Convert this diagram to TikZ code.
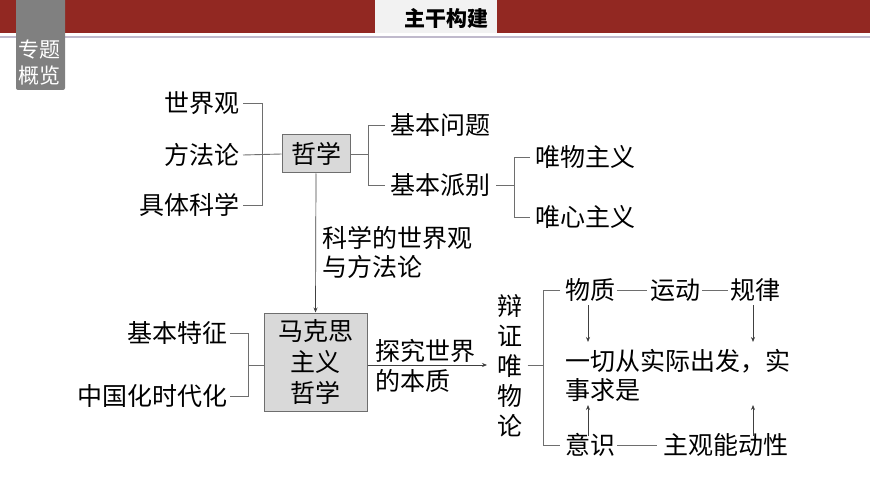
\documentclass[tikz,border=0pt]{standalone}
\usepackage{fontspec}
\setmainfont{Noto Sans CJK SC}
\usetikzlibrary{arrows.meta,calc}
\definecolor{barred}{RGB}{146,40,34}
\definecolor{tabgray}{RGB}{128,128,128}
\definecolor{boxfill}{RGB}{217,217,217}
\definecolor{lncol}{RGB}{110,110,110}
\definecolor{rulecol}{RGB}{192,186,204}
\tikzset{
  txt/.style={inner sep=0pt,font=\fontsize{25}{29}\selectfont},
  box/.style={draw=lncol,line width=1pt,fill=boxfill,inner sep=0pt,font=\fontsize{25}{28}\selectfont,align=center},
  ln/.style={draw=lncol,line width=0.9pt},
  arr/.style={draw=black!75,line width=0.7pt,-{Stealth[length=5pt,width=4pt]}},
}
\begin{document}
\begin{tikzpicture}[x=1pt,y=-1pt]
\useasboundingbox (0,0) rectangle (870,489);
% header
\fill[barred] (0,0) rectangle (870,33);
\fill[rulecol] (0,36.5) rectangle (870,38.5);
\fill[black!5] (375,0) rectangle (497,33);
\node[inner sep=0pt,font=\fontsize{21}{24}\selectfont\bfseries] (title) at (446,18) {主干构建};
\fill[tabgray,rounded corners=2pt] (16,-5) rectangle (65,90);
\node[inner sep=0pt,text=white,align=center,font=\fontsize{21}{26}\selectfont] (tab) at (39.5,63) {专题\\概览};
% top part
\node[txt,anchor=east] (sjg) at (240,103) {世界观};
\node[txt,anchor=east] (ffl) at (240,155) {方法论};
\node[txt,anchor=east] (jtkx) at (240,205) {具体科学};
\node[box,minimum width=68pt,minimum height=38pt] (zx) at (316,154) {哲学};
\node[txt,anchor=west] (jbwt) at (390,125) {基本问题};
\node[txt,anchor=west] (jbpb) at (390,185) {基本派别};
\node[txt,anchor=west] (wwzy) at (535,157) {唯物主义};
\node[txt,anchor=west] (wxzy) at (535,217) {唯心主义};
\node[txt,anchor=north west,align=left] (lab1) at (322,226) {科学的世界观\\与方法论};
% middle
\node[box,minimum width=103pt,minimum height=98pt,font=\fontsize{25}{31}\selectfont] (mks) at (315.5,362) {马克思\\主义\\哲学};
\node[txt,anchor=east] (jbtz) at (228,333) {基本特征};
\node[txt,anchor=east] (zgh) at (228,396) {中国化时代化};
\node[txt,anchor=west,align=left,font=\fontsize{25}{30}\selectfont] (lab2) at (375,366) {探究世界\\的本质};
\node[inner sep=0pt,align=center,font=\fontsize{25}{30}\selectfont] (bz) at (510,366) {辩\\证\\唯\\物\\论};
% right
\node[txt,anchor=west] (wz) at (565,290) {物质};
\node[txt,anchor=west] (yd) at (650,290) {运动};
\node[txt,anchor=west] (gl) at (730,290) {规律};
\node[txt,anchor=north west,align=left] (yq) at (565,349) {一切从实际出发，实\\事求是};
\node[txt,anchor=west] (ys) at (565,445) {意识};
\node[txt,anchor=west] (zg) at (663,445) {主观能动性};
% connectors top-left bracket
\coordinate (b1) at (262,155);
\draw[ln] ($(sjg.east)+(3,0)$) -- (sjg.east -| b1) -- (jtkx.east -| b1) -- ($(jtkx.east)+(3,0)$);
\draw[ln] ($(ffl.east)+(3,0)$) -- (zx.west);
% right of zhexue
\coordinate (b2) at (368,154);
\draw[ln] (zx.east) -- (b2);
\draw[ln] ($(jbwt.west)+(-5,0)$) -- (jbwt.west -| b2) -- (jbpb.west -| b2) -- ($(jbpb.west)+(-5,0)$);
\coordinate (b3) at (514,185);
\draw[ln] ($(jbpb.east)+(6,0)$) -- (b3);
\draw[ln] ($(wwzy.west)+(-5,0)$) -- (wwzy.west -| b3) -- (wxzy.west -| b3) -- ($(wxzy.west)+(-5,0)$);
% down arrow
\draw[arr] (zx.south) -- (mks.north);
% marxism left bracket
\coordinate (b4) at (248,365);
\draw[ln] ($(jbtz.east)+(2,0)$) -- (jbtz.east -| b4) -- (zgh.east -| b4) -- ($(zgh.east)+(2,0)$);
\draw[ln] (b4) -- (mks.west |- b4);
% arrow to bianzheng
\coordinate (a5) at (487,365);
\draw[arr] (mks.east |- a5) -- (a5);
% bianzheng bracket
\coordinate (b5) at (543,365);
\draw[ln] ($(bz.east |- b5)+(5,0)$) -- (b5);
\draw[ln] ($(wz.west)+(-5,0)$) -- (wz.west -| b5) -- (ys.west -| b5) -- ($(ys.west)+(-5,0)$);
% chains
\draw[ln] ($(wz.east)+(2,0)$) -- ($(yd.west)+(-3,0)$);
\draw[ln] ($(yd.east)+(2,0)$) -- ($(gl.west)+(-2,0)$);
\draw[ln] ($(ys.east)+(2,0)$) -- ($(zg.west)+(-6,0)$);
% vertical arrows
\coordinate (c1) at (588,305);
\coordinate (c2) at (588,342);
\coordinate (c3) at (753,305);
\coordinate (c4) at (753,342);
\coordinate (c5) at (588,436);
\coordinate (c6) at (588,405);
\coordinate (c7) at (753,436);
\coordinate (c8) at (753,405);
\draw[arr] (c1) -- (c2);
\draw[arr] (c3) -- (c4);
\draw[arr] (c5) -- (c6);
\draw[arr] (c7) -- (c8);
\end{tikzpicture}
\end{document}
